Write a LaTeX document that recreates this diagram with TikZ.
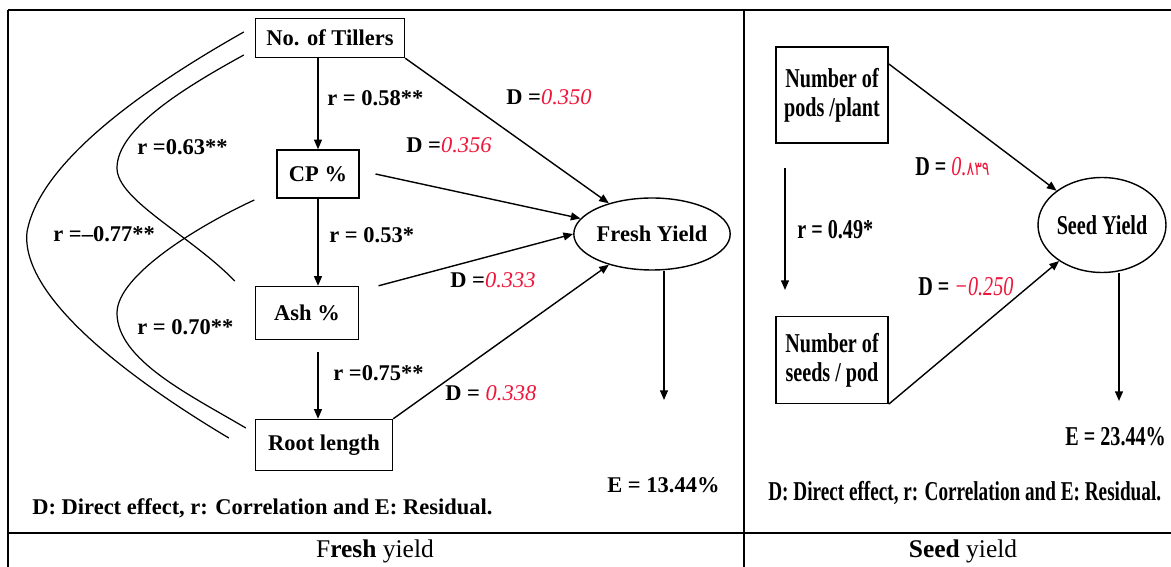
\documentclass[tikz,border=0pt]{standalone}
\usepackage{fontspec}
\setmainfont{Liberation Serif}
\newfontfamily\arabicfont[Script=Arabic]{DejaVu Sans}
\usepackage{graphicx}
\usetikzlibrary{shapes.geometric}
\usetikzlibrary{arrows.meta}
\definecolor{dred}{RGB}{238,22,58}
\newcommand{\dval}[1]{\textcolor{dred}{\mdseries\itshape #1}}
\newcommand{\cond}[1]{\scalebox{0.74}[1]{#1}}

\begin{document}
\begin{tikzpicture}[x=0.02cm,y=-0.02cm]
% Styles
\tikzset{
    varbox/.style={draw, line width=0.8pt, inner sep=2pt, align=center},
    lfont/.style={font=\fontsize{12.8}{14}\selectfont\bfseries},
    rfont/.style={font=\fontsize{15.5}{16.5}\selectfont\bfseries},
    yieldell/.style={draw, ellipse, line width=0.8pt, inner sep=0pt},
    effect/.style={-{Triangle[length=5.5pt,width=4.5pt]}, line width=0.8pt},
    corr/.style={line width=0.7pt},
    lbl/.style={anchor=west, inner sep=0pt}
}
\useasboundingbox (0,0) rectangle (1171,567);
% Table frame
\draw[line width=1.3pt] (8,567) -- (8,10);
\draw[line width=0.9pt] (8,10) -- (1171,10);
\draw[line width=1.3pt] (744,10) -- (744,567);
\draw[line width=1.3pt] (8,533) -- (1171,533);
\node[font=\fontsize{14.5}{16}\selectfont] (capF) at (375,551) {F\textbf{resh} yield};
\node[font=\fontsize{14.5}{16}\selectfont] (capS) at (963,551) {\textbf{Seed} yield};

% Fresh yield variables
\draw (330,38) node[varbox, lfont, minimum width=2.98cm, minimum height=0.78cm] (Tillers){No. of Tillers};
\draw (318,174) node[varbox, lfont, minimum width=1.64cm, minimum height=0.96cm] (CP){CP \%};
\draw (307,313) node[varbox, lfont, minimum width=2.06cm, minimum height=1.06cm] (Ash){Ash \%};
\draw (324,445) node[varbox, lfont, minimum width=2.74cm, minimum height=1.02cm] (Root){Root length};
\draw (652,234) node[yieldell, lfont, minimum width=2.9cm, minimum height=1.44cm] (Fresh){Fresh Yield};
\coordinate (Efresh) at (664,400);
% Direct effects
\draw[effect] (Tillers.south east) -- (Fresh);
\draw[effect] ([xshift=9]CP.east) -- (Fresh);
\draw[effect] ([xshift=11]Ash.north east) -- (Fresh.west);
\draw[effect] (Root.north east) -- (Fresh);
\draw[effect] (Fresh.south -| Efresh) -- (Efresh);
% Chain
\draw[effect] (CP.north |- Tillers.south) -- (CP.north);
\draw[effect] (CP.south) -- (CP.south |- Ash.north);
\draw[effect] ([yshift=-7]CP.south |- Ash.south) -- (CP.south |- Root.north);
% Correlations
\draw[corr] ([shift={(-11,-6)}]Tillers.west) .. controls (150,85) and (40,160) .. (27,232)
    .. controls (20,300) and (140,385) .. ([shift={(-26,-7)}]Root.west);
\draw[corr] ([shift={(-11,17)}]Tillers.west) .. controls (180,90) and (117,130) .. (117,168)
    .. controls (117,200) and (190,235) .. ([shift={(-20,-32)}]Ash.west);
\draw[corr] ([shift={(-22,26)}]CP.west) .. controls (200,225) and (117,275) .. (117,313)
    .. controls (117,360) and (190,395) .. ([shift={(-9,-17)}]Root.west);
% Labels
\node[lbl, lfont] (r58) at (327,98) {r = 0.58**};
\node[lbl, lfont] (D350) at (506,97) {D =\dval{0.350}};
\node[lbl, lfont] (D356) at (406,145) {D =\dval{0.356}};
\node[lbl, lfont] (r63) at (137,147) {r =0.63**};
\node[lbl, lfont] (r77) at (53,234) {r =–0.77**};
\node[lbl, lfont] (r53) at (329,235) {r = 0.53*};
\node[lbl, lfont] (D333) at (450,280) {D =\dval{0.333}};
\node[lbl, lfont] (r70) at (137,327) {r = 0.70**};
\node[lbl, lfont] (r75) at (333,373) {r =0.75**};
\node[lbl, lfont] (D338) at (445,393) {D = \dval{0.338}};
\node[lbl, lfont] (E13) at (607,485) {E = 13.44\%};
\node[lbl, lfont] (legF) at (32,508) {D: Direct effect, r: Correlation and E: Residual.};

% Seed yield variables
\draw (832,95) node[varbox, rfont, minimum width=2.24cm, minimum height=1.92cm] (Pods){\cond{Number of}\\\cond{pods /plant}};
\draw (832,360) node[varbox, rfont, minimum width=2.24cm, minimum height=1.74cm] (Seeds){\cond{Number of}\\\cond{seeds / pod}};
\draw (1102,225) node[yieldell, rfont, minimum width=2.4cm, minimum height=1.9cm] (Seed){\cond{Seed Yield}};
\coordinate (Eseed) at (1119,401);
\coordinate (rEnd) at (785,290);
\draw[effect] ([yshift=-10]Pods.north east) -- (Seed);
\draw[effect] (Seeds.south east) -- (Seed);
\draw[effect] (Seed.south -| Eseed) -- (Eseed);
\draw[effect] ([yshift=-14]Pods.south -| rEnd) -- (rEnd);
% Labels
\node[lbl, rfont] (D839) at (915,167) {\cond{D = \textcolor{dred}{\mdseries\itshape 0.}{\color{dred}\mdseries\arabicfont\fontsize{11}{13}\selectfont ٨٣٩}}};
\node[lbl, rfont] (r49) at (797,230) {\cond{r = 0.49*}};
\node[lbl, rfont] (D250) at (918,287) {\cond{D = \dval{−0.250}}};
\node[lbl, rfont] (E23) at (1065,437) {\cond{E = 23.44\%}};
\node[lbl, rfont] (legS) at (768,493) {\scalebox{0.705}[1]{D: Direct effect, r: Correlation and E: Residual.}};
\end{tikzpicture}
\end{document}
